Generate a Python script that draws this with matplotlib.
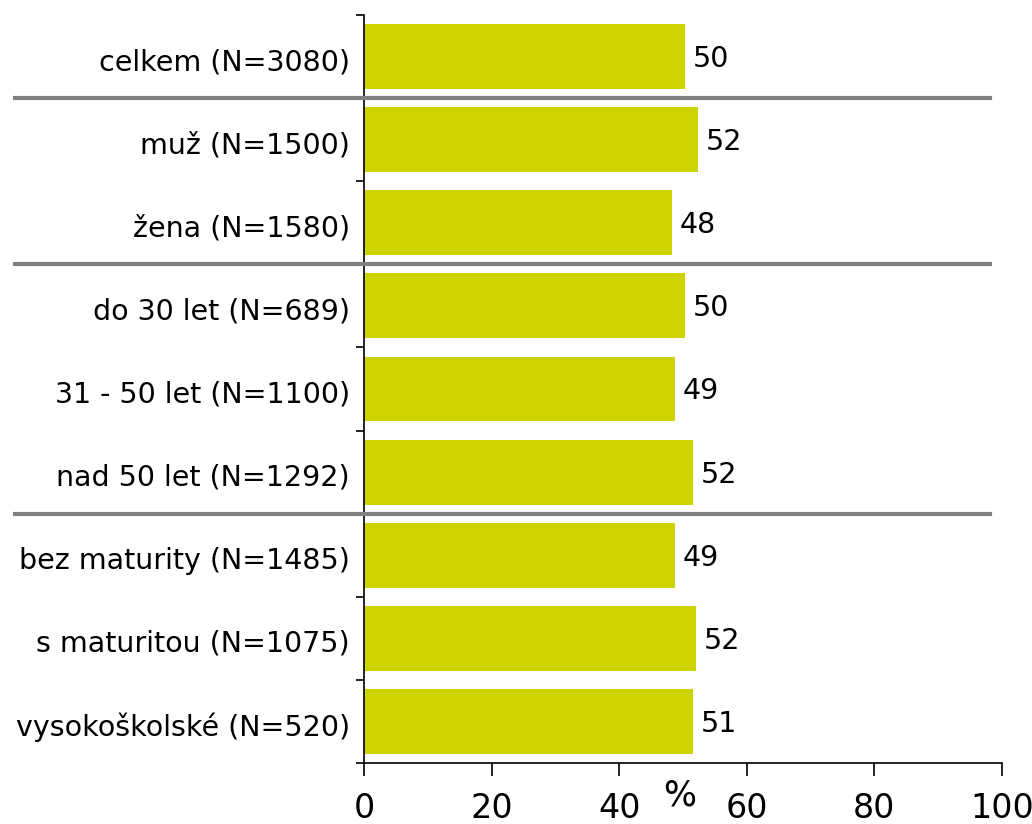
import numpy as np
import matplotlib.pyplot as plt

# data
categories = ['celkem (N=3080)', 'muž (N=1500)', 'žena (N=1580)',
              'do 30 let (N=689)', '31 - 50 let (N=1100)', 'nad 50 let (N=1292)',
              'bez maturity (N=1485)', 's maturitou (N=1075)', 'vysokoškolské (N=520)']
values = [50.3, 52.4, 48.3, 50.3, 48.7, 51.6, 48.7, 52.0, 51.6]
labels = ['50', '52', '48', '50', '49', '52', '49', '52', '51']
separators = [0.5, 2.5, 5.5]
xticks = [0, 20, 40, 60, 80, 100]

plt.rcParams['font.family'] = ['DejaVu Sans']

fig = plt.figure(figsize=(10.32, 8.24), dpi=100)
ax = fig.add_axes([364/1032, 1 - 763/824, 638/1032, 748/824])

y = np.arange(len(categories))
ax.barh(y, values, height=0.78, color='#CCD300', zorder=2)

for yi, v, lab in zip(y, values, labels):
    ax.text(v + 1.2, yi + 0.03, lab, va='center', ha='left', fontsize=20.5)

# group separators
for s in separators:
    ax.axhline(s, xmin=-0.547, xmax=0.981, color='#808080', lw=3, clip_on=False, zorder=3)

ax.set_xlim(0, 100)
ax.set_ylim(len(categories) - 0.5, -0.5)
ax.set_xticks(xticks)
ax.set_xticklabels([str(t) for t in xticks], fontsize=24)
ax.tick_params(axis='x', length=9, width=1.2, pad=12)

ax.set_yticks(y + 0.03)
ax.set_yticklabels(categories, fontsize=20.5)
ax.set_yticks(np.arange(-0.5, len(categories), 1), minor=True)
ax.tick_params(axis='y', which='major', length=0, pad=10)
ax.tick_params(axis='y', which='minor', length=6, width=1.2)

for side in ['top', 'right']:
    ax.spines[side].set_visible(False)
for side in ['left', 'bottom']:
    ax.spines[side].set_linewidth(1.2)

ax.text(0.494, -0.044, '%', transform=ax.transAxes, ha='center', va='center', fontsize=25)

fig.savefig('out.png', dpi=100)
